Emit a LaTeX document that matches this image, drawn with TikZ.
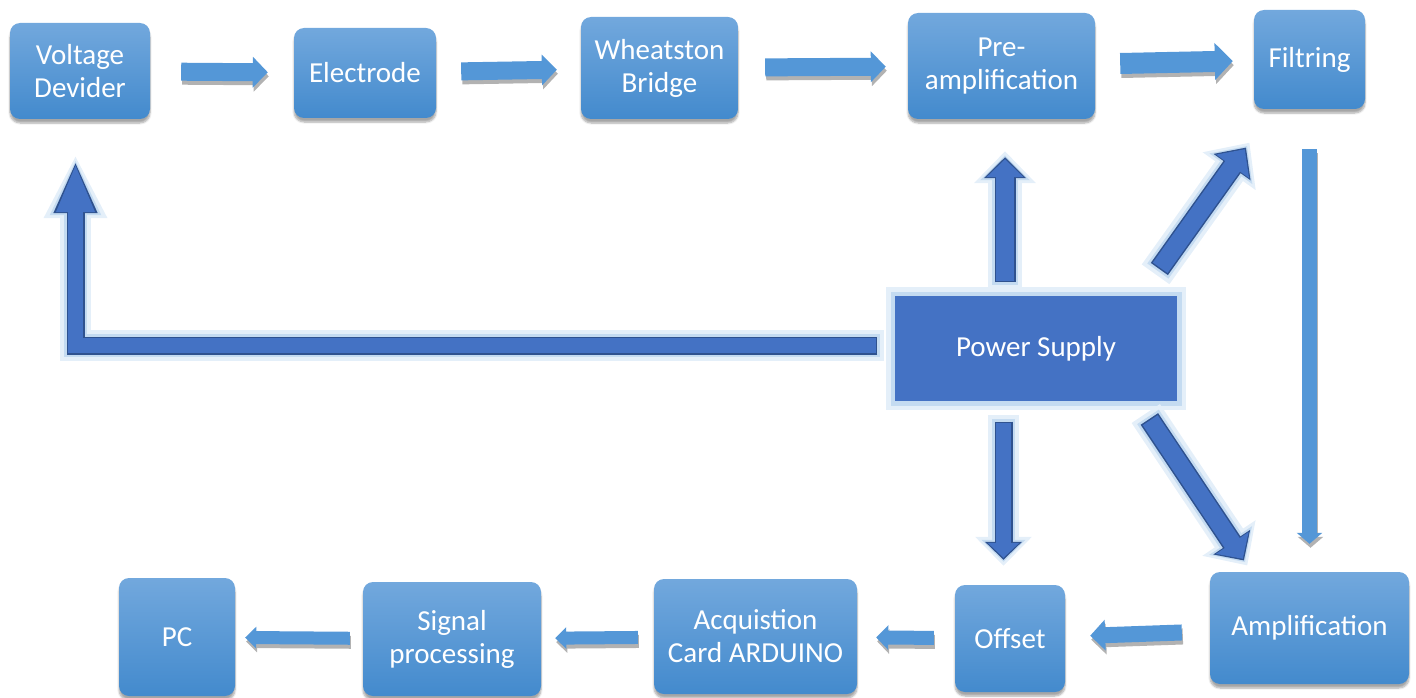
\documentclass[tikz,border=0pt]{standalone}
\usepackage{fontspec}
\setmainfont{Carlito}
\usetikzlibrary{arrows.meta,shadows.blur}

\definecolor{boxtop}{RGB}{114,168,221}
\definecolor{boxbot}{RGB}{67,138,205}
\definecolor{flowc}{RGB}{84,151,215}
\definecolor{pblue}{RGB}{68,114,196}
\definecolor{pline}{RGB}{47,82,143}
\definecolor{pglow}{RGB}{196,219,241}

\tikzset{
    block/.style={rounded corners=10pt, top color=boxtop, bottom color=boxbot,
        text=white, align=center, inner sep=0pt,
        blur shadow={shadow xshift=0pt, shadow yshift=-4pt, shadow opacity=35, shadow blur steps=6}},
    flow/.style n args={3}{draw=flowc, line width=#1, -{Triangle[width=#2,length=#3]}},
    flowshadow/.style n args={3}{draw=black!30, line width=#1, -{Triangle[width=#2,length=#3]}},
    power/.style n args={3}{draw=pblue, line width=#1, line join=miter, -{Triangle[width=#2,length=#3]},
        preaction={draw=pglow!45, line width=#1+16pt, shorten <=-8pt, shorten >=-8pt,
            -{Triangle[width=#2+24pt,length=#3+14pt]}},
        preaction={draw=pglow, line width=#1+8pt, shorten <=-4pt, shorten >=-4pt,
            -{Triangle[width=#2+12pt,length=#3+7pt]}},
        preaction={draw=pline, line width=#1+3pt, shorten <=-1.5pt, shorten >=-2pt,
            -{Triangle[width=#2+5pt,length=#3+3pt]}}}
}

\begin{document}
\begin{tikzpicture}[x=1pt, y=-1pt, font=\fontsize{29}{33}\selectfont]
    \useasboundingbox (0,0) rectangle (1416,698);

    % top row
    \node[block, minimum width=140pt, minimum height=96pt] (vd) at (80,71) {Voltage\\Devider};
    \node[block, minimum width=142pt, minimum height=90pt] (el) at (365,73) {Electrode};
    \node[block, minimum width=157pt, minimum height=102pt] (wb) at (659.5,68) {Wheatston\\Bridge};
    \node[block, minimum width=187pt, minimum height=106pt] (pre) at (1001.5,66) {Pre-\\amplification};
    \node[block, minimum width=111pt, minimum height=99pt] (fil) at (1309.5,59.5) {Filtring};

    % power supply
    \node[fill=pblue, text=white, inner sep=0pt, minimum width=282pt, minimum height=105pt,
        preaction={draw=pglow!45, line width=18pt},
        preaction={draw=pglow, line width=9pt}] (ps) at (1036,348.5) {Power Supply};

    % bottom row
    \node[block, minimum width=199pt, minimum height=112pt] (amp) at (1309.5,628) {Amplification};
    \node[block, minimum width=110pt, minimum height=107pt] (off) at (1010,638.5) {Offset};
    \node[block, minimum width=203pt, minimum height=115pt] (acq) at (755.5,636.5) {Acquistion\\Card ARDUINO};
    \node[block, minimum width=178pt, minimum height=114pt] (sig) at (452,639) {Signal\\processing};
    \node[block, minimum width=116pt, minimum height=118pt] (pc) at (177,637) {PC};

    % signal chain
    \foreach \a/\b/\sw/\hw/\hl/\gs/\ge in {vd/el/18/30/15/31/26, el/wb/18/30/15/25/24, wb/pre/18/30/15/27/22,
            pre/fil/21/36/18/25/21, fil/amp/15/25/11/40/28, amp/off/16/30/15/28/25,
            off/acq/14/24/12/21/19, acq/sig/13/21/11/16/14, sig/pc/13/21/11/13/10}{
        \begin{scope}[transform canvas={shift={(1pt,-4pt)}}]
            \draw[flowshadow={\sw pt}{\hw pt}{\hl pt}, shorten <=\gs pt, shorten >=\ge pt] (\a) -- (\b);
        \end{scope}
        \draw[flow={\sw pt}{\hw pt}{\hl pt}, shorten <=\gs pt, shorten >=\ge pt] (\a) -- (\b);
    }

    % supply lines
    \draw[power={18pt}{36pt}{18pt}] ([xshift=-31pt,yshift=15pt]ps.north) -- ([xshift=3.5pt,yshift=-40pt]pre.south);
    \draw[power={18pt}{39pt}{21pt}] ([xshift=-17pt,yshift=28pt]ps.north east) -- ([xshift=-9pt,yshift=-40pt]fil.south west);
    \draw[power={15pt}{31pt}{15pt}] ([xshift=-32.5pt,yshift=-22pt]ps.south) -- ([xshift=-6.5pt,yshift=27pt]off.north);
    \draw[power={18pt}{38pt}{19pt}] ([xshift=-27pt,yshift=-19pt]ps.south east) -- ([xshift=33pt,yshift=13pt]amp.north west);
    \draw[power={15pt}{35pt}{49pt}] ([xshift=-19pt,yshift=3pt]ps.west) -| ([xshift=-4.5pt,yshift=-44pt]vd.south);
\end{tikzpicture}
\end{document}
